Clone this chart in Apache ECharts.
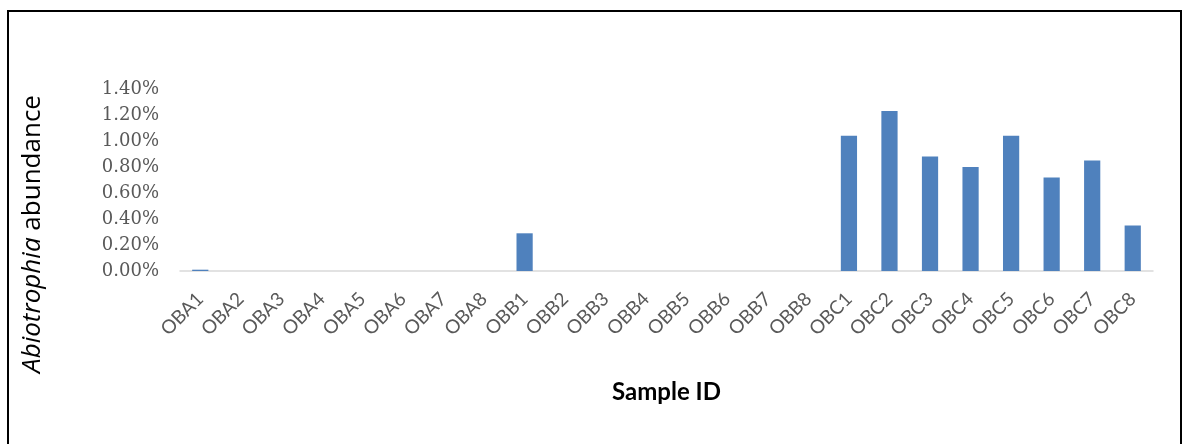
<!DOCTYPE html>
<html>
<head>
<meta charset="utf-8">
<script src="https://cdn.jsdelivr.net/npm/echarts@6/dist/echarts.min.js"></script>
<style>
  html, body { margin: 0; padding: 0; background: #ffffff; }
  #chart { width: 1190px; height: 444px; }
</style>
</head>
<body>
<div id="chart"></div>
<script>
// Sample identifiers along the x axis
const sampleIds = [
  'OBA1', 'OBA2', 'OBA3', 'OBA4', 'OBA5', 'OBA6', 'OBA7', 'OBA8',
  'OBB1', 'OBB2', 'OBB3', 'OBB4', 'OBB5', 'OBB6', 'OBB7', 'OBB8',
  'OBC1', 'OBC2', 'OBC3', 'OBC4', 'OBC5', 'OBC6', 'OBC7', 'OBC8'
];

// Relative abundance of Abiotrophia per sample (fraction, shown as %)
const abundance = [
  0.0001, 0, 0, 0, 0, 0, 0, 0,
  0.0029, 0, 0, 0, 0, 0, 0, 0,
  0.0104, 0.0123, 0.0088, 0.0080, 0.0104, 0.0072, 0.0085, 0.0035
];

// Value axis range
const yMin = 0;
const yMax = 0.014;
const yStep = 0.002;

const chart = echarts.init(document.getElementById('chart'));

chart.setOption({
  animation: false,
  backgroundColor: '#ffffff',
  grid: { left: 180, right: 37, top: 89, bottom: 173 },
  xAxis: {
    type: 'category',
    data: sampleIds,
    name: 'Sample ID',
    nameLocation: 'middle',
    nameGap: 109,
    nameTextStyle: { fontFamily: 'Lato', fontWeight: 'bold', fontSize: 24, color: '#000000' },
    axisLine: { lineStyle: { color: '#d9d9d9', width: 1.5 } },
    axisTick: { show: false },
    axisLabel: {
      rotate: 45,
      interval: 0,
      margin: 25,
      fontFamily: 'Lato',
      fontSize: 19,
      color: '#595959'
    }
  },
  yAxis: {
    type: 'value',
    min: yMin,
    max: yMax,
    interval: yStep,
    axisLine: { show: false },
    axisTick: { show: false },
    splitLine: { show: false },
    axisLabel: {
      margin: 21,
      fontFamily: 'DejaVu Serif',
      fontSize: 18,
      color: '#595959',
      formatter: v => (v * 100).toFixed(2) + '%'
    }
  },
  series: [{
    type: 'bar',
    data: abundance,
    barCategoryGap: '60%',
    itemStyle: { color: '#4f81bd' }
  }],
  graphic: [
    {
      // outer frame
      type: 'rect',
      shape: { x: 8, y: 11, width: 1173, height: 445 },
      style: { fill: 'none', stroke: '#000000', lineWidth: 2 }
    },
    {
      // value-axis title with italic genus name
      type: 'text',
      x: 33,
      y: 234,
      rotation: Math.PI / 2,
      style: {
        text: '{i|Abiotrophia} abundance',
        align: 'center',
        verticalAlign: 'middle',
        fontFamily: 'Open Sans',
        fontSize: 26,
        fill: '#000000',
        rich: {
          i: { fontFamily: 'Open Sans', fontStyle: 'italic', fontSize: 26, fill: '#000000' }
        }
      }
    }
  ]
});
</script>
</body>
</html>
